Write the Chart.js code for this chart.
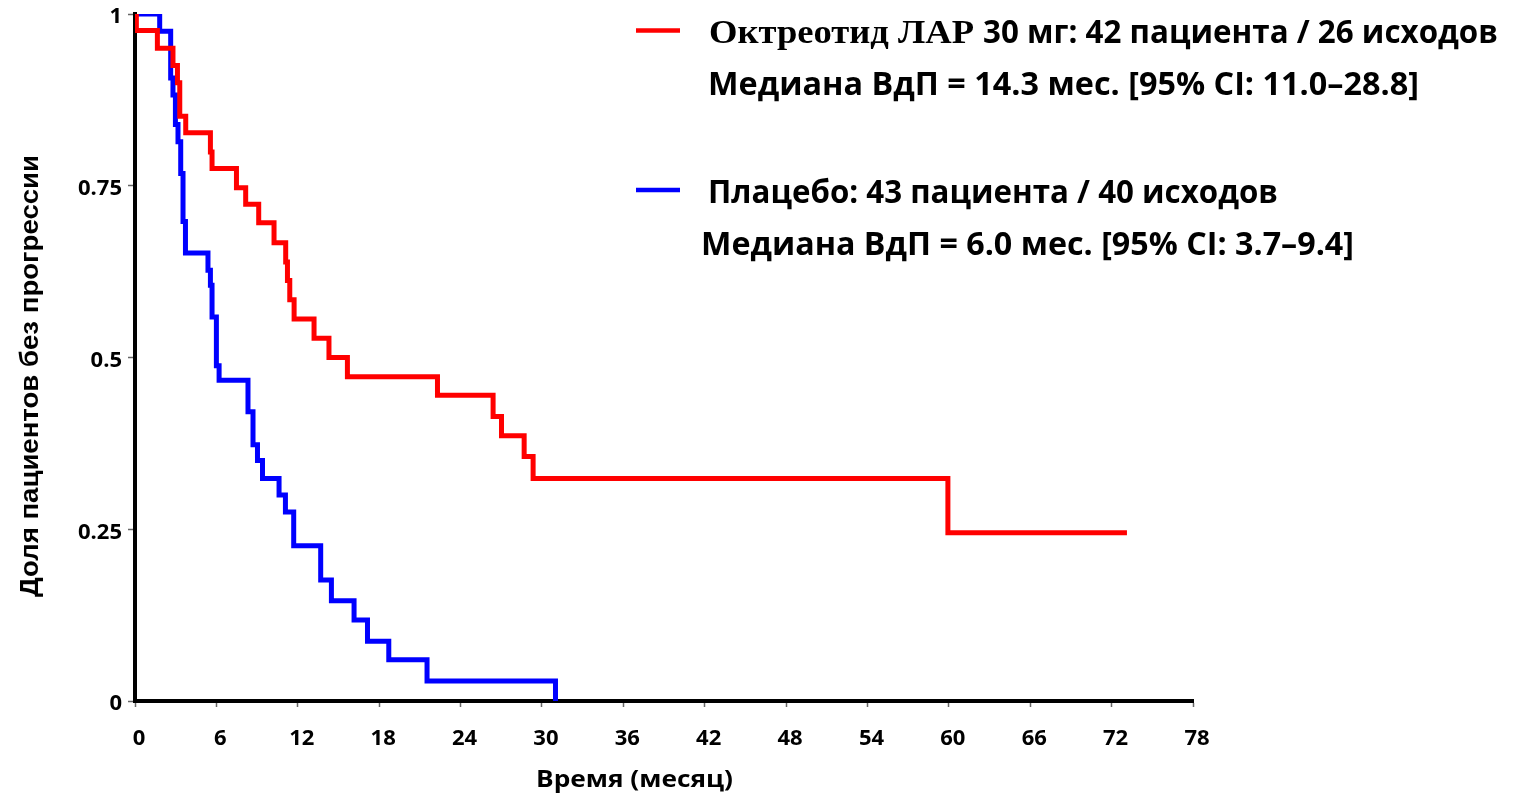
<!DOCTYPE html>
<html>
<head>
<meta charset="utf-8">
<title>Выживаемость без прогрессии</title>
<script src="https://cdn.jsdelivr.net/npm/chart.js@4.4.0/dist/chart.umd.min.js"></script>
<style>
  html, body { margin: 0; padding: 0; background: #fff; }
  #wrap { width: 1513px; height: 796px; }
</style>
</head>
<body>
<div id="wrap"><canvas id="kmChart" width="1513" height="796"></canvas></div>
<script>
// Kaplan-Meier steps: time (months) where the curve drops, and the new proportion
var octreotideTimes = [0, 0.1, 1.65, 2.8, 3.13, 3.3, 3.74, 5.56, 5.68, 7.48, 8.16, 9.12, 10.25, 11.11, 11.24, 11.41, 11.73, 13.2, 14.3, 15.66, 22.3, 26.4, 27.02, 28.69, 29.35, 59.93, 73.13];
var octreotideSurvival = [1, 0.976, 0.95, 0.925, 0.9, 0.851, 0.827, 0.799, 0.775, 0.747, 0.723, 0.696, 0.667, 0.639, 0.612, 0.584, 0.556, 0.528, 0.5, 0.472, 0.445, 0.414, 0.386, 0.356, 0.324, 0.245, 0.245];

var placeboTimes = [0, 1.82, 2.63, 2.8, 2.98, 3.17, 3.37, 3.54, 3.72, 5.38, 5.56, 5.68, 6.0, 6.2, 8.33, 8.7, 9.03, 9.4, 10.62, 11.09, 11.7, 13.69, 14.48, 16.15, 17.14, 18.71, 21.53, 31.0];
var placeboSurvival = [1, 0.975, 0.907, 0.882, 0.839, 0.814, 0.768, 0.698, 0.652, 0.627, 0.605, 0.559, 0.488, 0.467, 0.421, 0.373, 0.35, 0.324, 0.3, 0.275, 0.226, 0.176, 0.146, 0.118, 0.087, 0.06, 0.029, 0];

var xTicks = [0, 6, 12, 18, 24, 30, 36, 42, 48, 54, 60, 66, 72, 78];
var yTicks = [0, 0.25, 0.5, 0.75, 1];
var yTickLabels = ['0', '0.25', '0.5', '0.75', '1'];

var xTitle = 'Время (месяц)';
var yTitle = 'Доля пациентов без прогрессии';

var octreotideName = 'Октреотид ЛАР';
var octreotideInfo = '30 мг: 42 пациента / 26 исходов';
var octreotideMedian = 'Медиана ВдП = 14.3 мес. [95% CI: 11.0–28.8]';
var placeboInfo = 'Плацебо: 43 пациента / 40 исходов';
var placeboMedian = 'Медиана ВдП = 6.0 мес. [95% CI: 3.7–9.4]';

var RED = '#ff0000';
var BLUE = '#0000ff';
var SANS = '"Open Sans", "DejaVu Sans", sans-serif';

function toPoints(times, values) {
    return times.map(function(t, i) {
        return { x: t, y: values[i] };
    });
}

// draw text squeezed/stretched horizontally to a given width
function fitText(ctx, text, x, y, width) {
    var w = ctx.measureText(text).width;
    ctx.save();
    ctx.translate(x, y);
    ctx.scale(width / w, 1);
    ctx.fillText(text, 0, 0);
    ctx.restore();
}

var annotations = {
    id: 'annotations',
    afterDraw: function(chart) {
        var ctx = chart.ctx;
        ctx.save();

        // legend swatches
        ctx.lineWidth = 4.5;
        ctx.strokeStyle = RED;
        ctx.beginPath();
        ctx.moveTo(636, 30.5);
        ctx.lineTo(680, 30.5);
        ctx.stroke();
        ctx.strokeStyle = BLUE;
        ctx.beginPath();
        ctx.moveTo(636, 190);
        ctx.lineTo(680, 190);
        ctx.stroke();

        ctx.fillStyle = '#000';
        ctx.textAlign = 'left';
        ctx.textBaseline = 'alphabetic';

        ctx.font = 'bold 33px "Liberation Serif", serif';
        fitText(ctx, octreotideName, 709, 43, 265);
        ctx.font = 'bold 32px ' + SANS;
        fitText(ctx, octreotideInfo, 983, 43, 515);
        fitText(ctx, octreotideMedian, 708, 95, 711);
        fitText(ctx, placeboInfo, 708, 203, 570);
        fitText(ctx, placeboMedian, 701, 255, 653);

        // axis titles
        ctx.font = 'bold 24px ' + SANS;
        fitText(ctx, xTitle, 536, 787, 197);

        ctx.font = 'bold 25px "Liberation Sans", Arial, sans-serif';
        var w = ctx.measureText(yTitle).width;
        ctx.translate(38, 376);
        ctx.rotate(-Math.PI / 2);
        ctx.scale(442 / w, 1);
        ctx.textAlign = 'center';
        ctx.fillText(yTitle, 0, 0);

        ctx.restore();
    }
};

var tickFont = { family: SANS, weight: 'bold', size: 22 };

new Chart(document.getElementById('kmChart').getContext('2d'), {
    type: 'line',
    data: {
        datasets: [
            {
                label: 'Октреотид ЛАР 30 мг',
                data: toPoints(octreotideTimes, octreotideSurvival),
                borderColor: RED,
                borderWidth: 5,
                stepped: 'before',
                pointRadius: 0,
                fill: false
            },
            {
                label: 'Плацебо',
                data: toPoints(placeboTimes, placeboSurvival),
                borderColor: BLUE,
                borderWidth: 5,
                stepped: 'before',
                pointRadius: 0,
                fill: false
            }
        ]
    },
    options: {
        responsive: false,
        animation: false,
        layout: { padding: { top: 14, right: 320, bottom: 0, left: 0 } },
        plugins: {
            legend: { display: false },
            tooltip: { enabled: false }
        },
        scales: {
            x: {
                type: 'linear',
                min: 0,
                max: 78,
                afterBuildTicks: function(scale) {
                    scale.ticks = xTicks.map(function(v) { return { value: v }; });
                },
                afterFit: function(scale) {
                    scale.height = 95;
                    scale.paddingLeft = 0;
                    scale.paddingRight = 0;
                },
                ticks: {
                    font: tickFont,
                    color: '#000',
                    padding: 19,
                    labelOffset: 4,
                    maxRotation: 0,
                    autoSkip: false
                },
                grid: {
                    drawOnChartArea: false,
                    tickLength: 6,
                    tickColor: '#666',
                    tickWidth: 1.5
                },
                border: { color: '#000', width: 4 }
            },
            y: {
                min: 0,
                max: 1,
                afterBuildTicks: function(scale) {
                    scale.ticks = yTicks.map(function(v) { return { value: v }; });
                },
                afterFit: function(scale) {
                    scale.width = 135;
                    scale.paddingTop = 0;
                    scale.paddingBottom = 0;
                },
                ticks: {
                    font: tickFont,
                    color: '#000',
                    padding: 6,
                    labelOffset: 3,
                    callback: function(value) {
                        return yTickLabels[yTicks.indexOf(value)];
                    }
                },
                grid: {
                    drawOnChartArea: false,
                    tickLength: 7,
                    tickColor: '#666',
                    tickWidth: 1.5
                },
                border: { color: '#000', width: 4 }
            }
        }
    },
    plugins: [annotations]
});
</script>
</body>
</html>
